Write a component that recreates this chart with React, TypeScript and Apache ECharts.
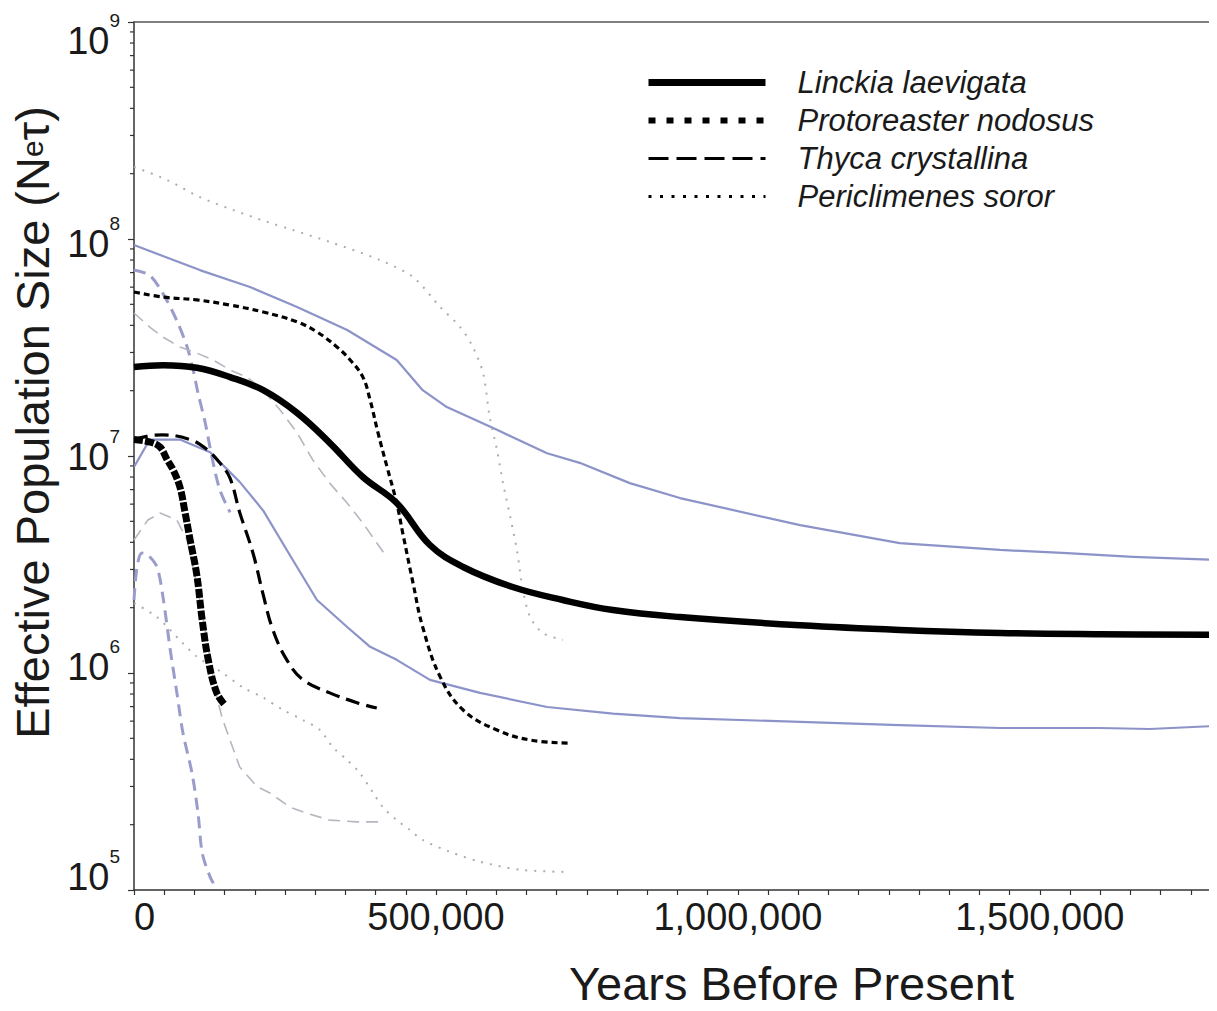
import React, { useEffect, useRef } from "react";
import * as echarts from "echarts";

// ---- Data (years before present, effective population size) ----
const linckiaMean = [
  [0, 2.57e7], [48000, 2.62e7], [104000, 2.55e7], [159000, 2.31e7], [214000, 2.01e7],
  [270000, 1.58e7], [324000, 1.15e7], [379000, 8.0e6], [435000, 6.07e6], [490000, 3.89e6],
  [545000, 3.08e6], [627000, 2.49e6], [710000, 2.17e6], [793000, 1.95e6], [904000, 1.81e6],
  [1103000, 1.66e6], [1268000, 1.58e6], [1434000, 1.53e6], [1599000, 1.51e6], [1790000, 1.5e6],
];
const linckiaUpper = [
  [0, 9.38e7], [109000, 7.19e7], [192000, 6.01e7], [270000, 4.86e7], [353000, 3.81e7],
  [435000, 2.77e7], [478000, 2.01e7], [518000, 1.68e7], [601000, 1.32e7], [684000, 1.03e7],
  [738000, 9.3e6], [821000, 7.5e6], [904000, 6.4e6], [1103000, 4.8e6], [1268000, 3.97e6],
  [1434000, 3.69e6], [1545000, 3.57e6], [1654000, 3.43e6], [1790000, 3.32e6],
];
const linckiaLower = [
  [0, 8.9e6], [26000, 1.19e7], [76000, 1.19e7], [126000, 1.04e7], [175000, 7.6e6],
  [214000, 5.6e6], [253000, 3.69e6], [303000, 2.17e6], [353000, 1.63e6], [391000, 1.32e6],
  [435000, 1.15e6], [490000, 9.3e5], [573000, 8.1e5], [684000, 6.97e5], [793000, 6.5e5],
  [904000, 6.2e5], [1103000, 5.95e5], [1268000, 5.75e5], [1434000, 5.58e5], [1599000, 5.58e5],
  [1682000, 5.52e5], [1790000, 5.7e5],
];
const protoreasterMean = [
  [0, 1.19e7], [26000, 1.16e7], [43000, 1.1e7], [55000, 9.6e6], [65000, 8.6e6],
  [76000, 7.2e6], [84000, 5.6e6], [93000, 4.1e6], [104000, 2.83e6], [113000, 1.75e6],
  [123000, 1.15e6], [137000, 8.1e5], [151000, 7.1e5],
];
const protoreasterUpper = [
  [0, 7.2e7], [26000, 6.8e7], [48000, 5.6e7], [71000, 4.2e7], [88000, 3.18e7],
  [98000, 2.49e7], [106000, 1.95e7], [118000, 1.42e7], [129000, 9.9e6], [142000, 7.0e6],
  [159000, 5.5e6],
];
const protoreasterLower = [
  [0, 2.17e6], [5000, 3.08e6], [13000, 3.57e6], [23000, 3.5e6], [38000, 3.08e6],
  [48000, 2.24e6], [60000, 1.28e6], [71000, 8.1e5], [81000, 5.3e5], [96000, 3.46e5],
  [106000, 2.26e5], [113000, 1.48e5], [126000, 1.15e5], [136000, 1.02e5],
];
const thycaMean = [
  [0, 1.19e7], [26000, 1.24e7], [48000, 1.25e7], [93000, 1.19e7], [121000, 1.07e7],
  [142000, 9.3e6], [159000, 7.9e6], [175000, 5.5e6], [197000, 3.57e6], [214000, 2.29e6],
  [230000, 1.58e6], [253000, 1.15e6], [280000, 9.3e5], [324000, 8.1e5], [369000, 7.3e5],
  [402000, 6.9e5],
];
const thycaUpper = [
  [0, 4.56e7], [26000, 3.93e7], [48000, 3.53e7], [76000, 3.18e7], [104000, 2.98e7],
  [131000, 2.77e7], [159000, 2.49e7], [187000, 2.31e7], [214000, 2.01e7], [242000, 1.63e7],
  [270000, 1.28e7], [296000, 9.6e6], [324000, 7.5e6], [353000, 6.07e6], [379000, 4.91e6],
  [416000, 3.5e6],
];
const thycaLower = [
  [0, 4.1e6], [23000, 5.07e6], [43000, 5.46e6], [71000, 5.07e6], [88000, 4.1e6],
  [104000, 2.55e6], [121000, 1.42e6], [134000, 8.4e5], [146000, 6.2e5], [159000, 4.91e5],
  [175000, 3.69e5], [204000, 2.99e5], [225000, 2.8e5], [258000, 2.41e5], [286000, 2.26e5],
  [324000, 2.1e5], [369000, 2.06e5], [407000, 2.06e5],
];
const periclimenesMean = [
  [0, 5.7e7], [48000, 5.4e7], [104000, 5.24e7], [159000, 4.96e7], [214000, 4.61e7],
  [270000, 4.15e7], [303000, 3.73e7], [336000, 3.18e7], [358000, 2.77e7], [379000, 2.31e7],
  [391000, 1.81e7], [404000, 1.28e7], [419000, 8.9e6], [435000, 6.07e6], [445000, 4.42e6],
  [462000, 2.6e6], [478000, 1.63e6], [507000, 9.6e5], [545000, 6.75e5], [601000, 5.46e5],
  [656000, 4.91e5], [719000, 4.75e5],
];
const periclimenesUpper = [
  [0, 2.15e8], [55000, 1.87e8], [109000, 1.56e8], [164000, 1.36e8], [220000, 1.2e8],
  [263000, 1.1e8], [324000, 9.7e7], [407000, 8.0e7], [462000, 6.68e7], [507000, 4.86e7],
  [540000, 3.93e7], [561000, 3.18e7], [578000, 2.41e7], [589000, 1.51e7], [601000, 1.07e7],
  [611000, 7.5e6], [623000, 5.24e6], [634000, 3.69e6], [644000, 2.41e6], [656000, 1.81e6],
  [677000, 1.53e6], [710000, 1.42e6],
];
const periclimenesLower = [
  [0, 2.1e6], [38000, 1.81e6], [81000, 1.37e6], [104000, 1.19e6], [147000, 1.0e6],
  [180000, 8.6e5], [214000, 7.7e5], [247000, 6.75e5], [280000, 6.07e5], [308000, 5.46e5],
  [329000, 4.56e5], [353000, 3.97e5], [374000, 3.46e5], [396000, 2.8e5], [412000, 2.41e5],
  [435000, 2.1e5], [457000, 1.89e5], [478000, 1.7e5], [523000, 1.5e5], [573000, 1.35e5],
  [639000, 1.24e5], [722000, 1.21e5],
];

const speciesNames = ["Linckia laevigata", "Protoreaster nodosus", "Thyca crystallina", "Periclimenes soror"];
const xLabelValues = [0, 500000, 1000000, 1500000];
const yExponents = [5, 6, 7, 8, 9];
const yMinorTickValues = [
  2e5, 3e5, 4e5, 5e5, 6e5, 7e5, 8e5, 9e5,
  2e6, 3e6, 4e6, 5e6, 6e6, 7e6, 8e6, 9e6,
  2e7, 3e7, 4e7, 5e7, 6e7, 7e7, 8e7, 9e7,
  2e8, 3e8, 4e8, 5e8, 6e8, 7e8, 8e8, 9e8,
];

const FONT = "Liberation Sans, Arial, sans-serif";
const TEXT = "#1a1a1a";

// vertical nudges (px) of each decade label relative to its tick, as in the figure
const labelNudge: Record<number, number> = { 5: -13, 6: -6, 7: 1, 8: 5, 9: 19 };

function padFor(offset: number) {
  return offset >= 0 ? [2 * offset, 0, 0, 0] : [0, 0, -2 * offset, 0];
}

function lineSeries(name: string, data: number[][], color: string, width: number, type: any, z: number, smooth: any = false) {
  return {
    type: "line",
    name,
    data,
    showSymbol: false,
    symbol: "none",
    smooth,
    silent: true,
    z,
    lineStyle: { color, width, type, cap: "butt", join: "round" },
    itemStyle: { color },
  };
}

export default function App() {
  const ref = useRef<HTMLDivElement>(null);
  useEffect(() => {
    if (!ref.current) return;
    const chart = echarts.init(ref.current, undefined, { renderer: "svg" });
    const ciBlue = "#8c93c9";
    const protoBlue = "#9a9dcb";
    const thycaGray = "#b6b6c0";
    const pericGray = "#adadad";
    const hidden = { opacity: 0, borderWidth: 0 };

    const rich: any = {};
    yExponents.forEach((e) => {
      const o = labelNudge[e];
      rich["b" + e] = { fontSize: 38, fontFamily: FONT, color: TEXT, lineHeight: 38, padding: padFor(o) };
      rich["s" + e] = { fontSize: 19, fontFamily: FONT, color: TEXT, lineHeight: 20, padding: padFor(o - 21) };
    });

    const option: any = {
      animation: false,
      backgroundColor: "#ffffff",
      grid: { left: 134, right: 2, top: 22, bottom: 121, containLabel: false, outerBoundsMode: "none" },
      legend: {
        orient: "vertical",
        left: 645,
        top: 67,
        padding: 0,
        itemWidth: 117,
        itemHeight: 20,
        itemGap: 7,
        selectedMode: false,
        itemStyle: hidden,
        textStyle: {
          fontSize: 31,
          fontStyle: "italic",
          fontFamily: FONT,
          color: TEXT,
          lineHeight: 31,
          padding: [0, 0, 0, 27],
        },
        data: [
          { name: speciesNames[0], itemStyle: hidden, lineStyle: { width: 7, type: "solid", color: "#000" } },
          { name: speciesNames[1], itemStyle: hidden, lineStyle: { width: 6, type: [7, 11], color: "#000" } },
          { name: speciesNames[2], itemStyle: hidden, lineStyle: { width: 3, type: [20, 8], color: "#000" } },
          { name: speciesNames[3], itemStyle: hidden, lineStyle: { width: 3, type: [3, 8.5], color: "#000" } },
        ],
      },
      xAxis: [
        {
          type: "value",
          min: 0,
          max: 1790000,
          interval: 50000,
          axisLine: { onZero: false, lineStyle: { color: "#333", width: 1.5 } },
          axisTick: { length: 5, lineStyle: { color: "#333", width: 1.2 } },
          splitLine: { show: false },
          axisLabel: {
            fontSize: 38,
            fontFamily: FONT,
            color: TEXT,
            margin: 8,
            alignMinLabel: "left",
            formatter: (v: number) =>
              xLabelValues.indexOf(v) >= 0 ? v.toLocaleString("en-US") : "",
          },
          name: "Years Before Present",
          nameLocation: "middle",
          nameGap: 70,
          nameTextStyle: {
            fontSize: 47,
            fontFamily: FONT,
            color: TEXT,
            padding: [0, 0, 0, 234],
          },
        },
        {
          type: "value",
          position: "top",
          min: 0,
          max: 1790000,
          axisLine: { show: true, onZero: false, lineStyle: { color: "#555", width: 1.5 } },
          axisTick: { show: false },
          axisLabel: { show: false },
          splitLine: { show: false },
        },
      ],
      yAxis: {
        type: "log",
        logBase: 10,
        min: 1e5,
        max: 1e9,
        splitNumber: 4,
        axisLine: { show: true, onZero: false, lineStyle: { color: "#333", width: 1.5 } },
        axisTick: { show: true, length: 6, lineStyle: { color: "#333", width: 1.2 } },
        splitLine: { show: false },
        axisLabel: {
          fontFamily: FONT,
          color: TEXT,
          fontSize: 38,
          lineHeight: 38,
          margin: 14,
          formatter: (v: number) => {
            const e = Math.round(Math.log10(v));
            return `{b${e}|10}{s${e}|${e}}`;
          },
          rich,
        },
        name: "Effective Population Size (N{e|e}τ)",
        nameLocation: "middle",
        nameGap: 72,
        nameTextStyle: {
          fontSize: 47,
          fontFamily: FONT,
          color: TEXT,
          padding: [0, 0, 0, 67],
          rich: {
            e: { fontSize: 30, fontFamily: FONT, color: TEXT },
          },
        },
      },
      series: [
        lineSeries("Linckia CI upper", linckiaUpper, ciBlue, 2.2, "solid", 2),
        lineSeries("Linckia CI lower", linckiaLower, ciBlue, 2.2, "solid", 2),
        lineSeries("Protoreaster CI upper", protoreasterUpper, protoBlue, 3, [12, 7], 2, 0.3),
        lineSeries("Protoreaster CI lower", protoreasterLower, protoBlue, 3, [12, 7], 2, 0.3),
        lineSeries("Thyca CI upper", thycaUpper, thycaGray, 1.6, [12, 7], 2),
        lineSeries("Thyca CI lower", thycaLower, thycaGray, 1.6, [12, 7], 2),
        lineSeries("Periclimenes CI upper", periclimenesUpper, pericGray, 2, [2, 7], 2, 0.3),
        lineSeries("Periclimenes CI lower", periclimenesLower, pericGray, 2, [2, 7], 2, 0.3),
        lineSeries(speciesNames[3], periclimenesMean, "#000", 3.2, [6, 4], 5, 0.4),
        lineSeries(speciesNames[2], thycaMean, "#000", 3.2, [14, 7], 5, 0.4),
        lineSeries(speciesNames[1], protoreasterMean, "#000", 7, [9, 2], 6, 0.4),
        lineSeries(speciesNames[0], linckiaMean, "#000", 6.5, "solid", 7, 0.4),
        {
          type: "custom",
          name: "minor ticks",
          coordinateSystem: "cartesian2d",
          silent: true,
          clip: false,
          z: 10,
          data: yMinorTickValues.map((v) => [0, v]),
          encode: { x: 0, y: 1 },
          renderItem: (_params: any, api: any) => {
            const p = api.coord([0, api.value(1)]);
            return {
              type: "line",
              shape: { x1: p[0] - 4, y1: p[1], x2: p[0], y2: p[1] },
              style: { stroke: "#333", lineWidth: 1.2 },
            };
          },
        },
      ],
    };
    chart.setOption(option);
    return () => chart.dispose();
  }, []);
  return <div ref={ref} style={{ width: 1217, height: 1011, margin: -8 }} />;
}
